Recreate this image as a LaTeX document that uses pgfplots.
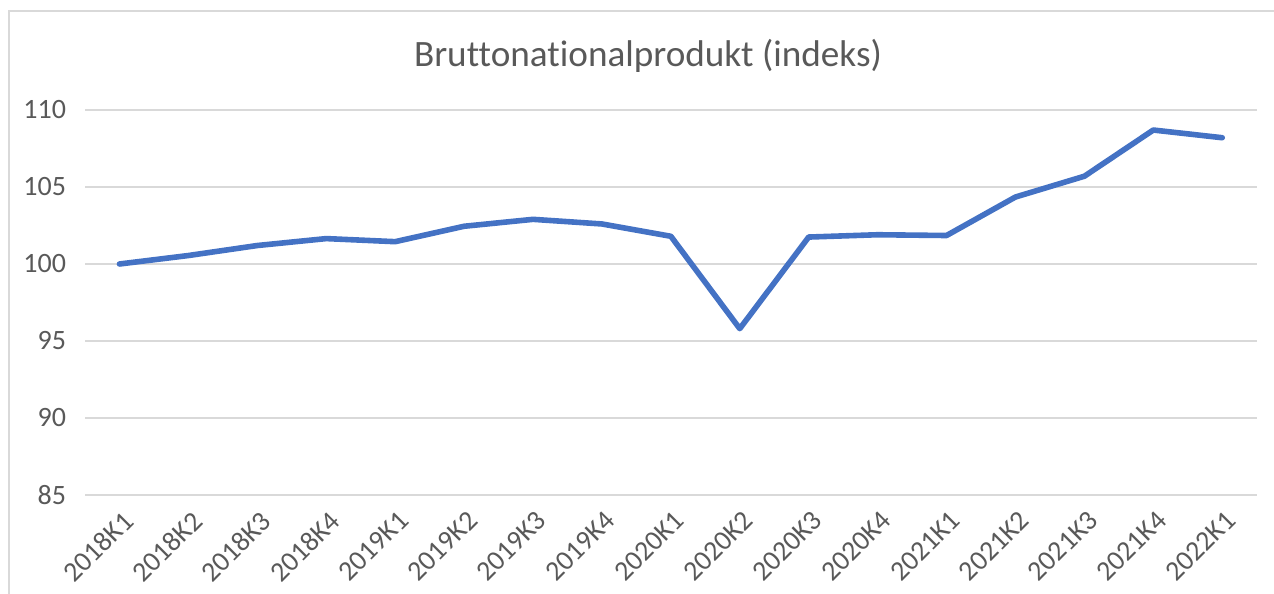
\documentclass[border=0pt]{standalone}
\usepackage{fontspec}
\setmainfont[Ligatures=NoCommon]{Carlito}
\usepackage{pgfplots}
\pgfplotsset{compat=1.18}
\definecolor{lineblue}{HTML}{4472C4}
\definecolor{txtgrey}{HTML}{595959}
\definecolor{gridgrey}{HTML}{D9D9D9}
\begin{document}
\begin{tikzpicture}
\useasboundingbox (0,0) rectangle (637bp,297bp);
\draw[gridgrey, line width=0.9bp] (4.5bp,0) -- (4.5bp,291.3bp) -- (637bp,291.3bp);
\node[txtgrey, font=\fontsize{18.6bp}{22bp}\selectfont, anchor=base] at (324bp,263.7bp) {Bruttonationalprodukt (indeks)};
\begin{axis}[
  scale only axis,
  width=585.85bp, height=192.5bp,
  at={(42.5bp,49.5bp)}, anchor=south west,
  xmin=-0.5, xmax=16.5,
  ymin=85, ymax=110,
  ytick={85,90,...,110},
  xtick={0,...,16},
  xticklabels={2018K1,2018K2,2018K3,2018K4,2019K1,2019K2,2019K3,2019K4,2020K1,2020K2,2020K3,2020K4,2021K1,2021K2,2021K3,2021K4,2022K1},
  axis line style={draw=none},
  tick style={draw=none},
  ymajorgrids,
  major grid style={gridgrey, line width=0.75bp},
  tick label style={txtgrey, font=\fontsize{14bp}{16bp}\selectfont},
  /pgf/number format/assume math mode=true,
  yticklabel style={xshift=-6bp},
  xticklabel style={rotate=45, anchor=north east, xshift=-4.2bp, yshift=-5.7bp, inner sep=0pt},
  clip=false,
]
\addplot[lineblue, line width=2.8bp, line join=round, line cap=round] coordinates {
(0,100.0) (1,100.55) (2,101.2) (3,101.65) (4,101.45) (5,102.45) (6,102.9) (7,102.6)
(8,101.8) (9,95.8) (10,101.75) (11,101.9) (12,101.85) (13,104.35) (14,105.7) (15,108.7) (16,108.2)
};
\end{axis}
\end{tikzpicture}
\end{document}
